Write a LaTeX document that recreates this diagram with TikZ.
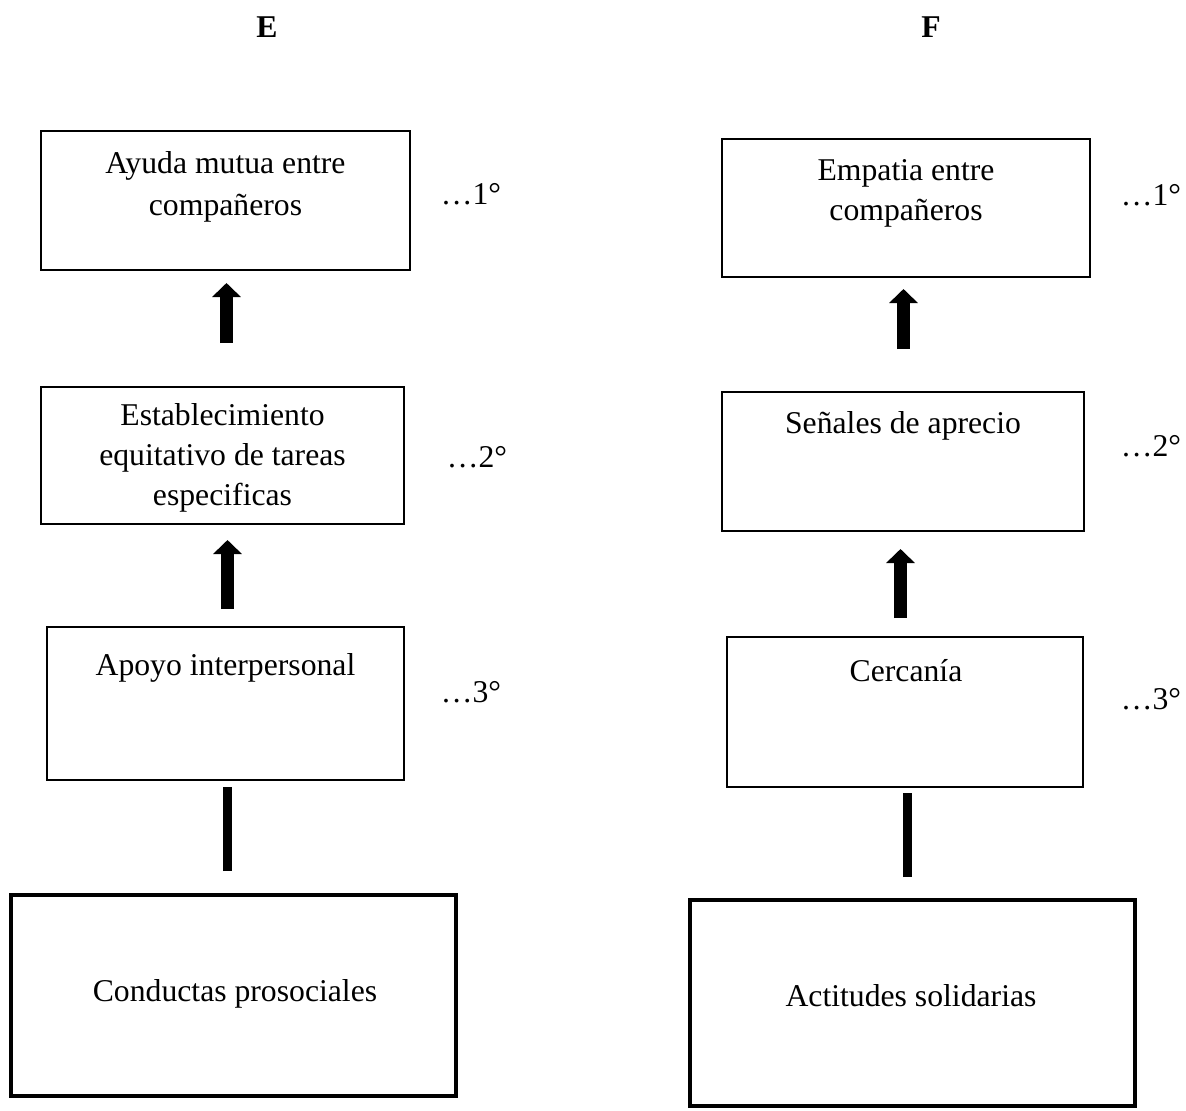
\documentclass[tikz,border=0pt]{standalone}
\usepackage{fontspec}
\setmainfont{Liberation Serif}
\usetikzlibrary{arrows.meta}
\begin{document}
\begin{tikzpicture}[x=1pt,y=-1pt,
  box/.style={draw,line width=2pt,inner sep=0pt,outer sep=0pt},
  thickbox/.style={draw,line width=4pt,inner sep=0pt,outer sep=0pt},
  txt/.style={font=\fontsize{31.7pt}{41pt}\selectfont,align=center,anchor=base,inner sep=0pt},
  fat/.style={line width=13pt,-{Triangle[length=14pt,width=28pt]}},
  bar/.style={line width=9pt}]
\useasboundingbox (0,0) rectangle (1186,1111);
% headings
\node[txt,font=\fontsize{31.7pt}{41pt}\selectfont\bfseries] (E) at (267,37) {E};
\node[txt,font=\fontsize{31.7pt}{41pt}\selectfont\bfseries] (F) at (931,37) {F};
% left column
\node[box,minimum width=369pt,minimum height=139pt] (L1) at (225.5,200.5) {};
\node[box,minimum width=363pt,minimum height=137pt] (L2) at (222.5,455.5) {};
\node[box,minimum width=357pt,minimum height=153pt] (L3) at (225.5,703.5) {};
\node[thickbox,minimum width=445pt,minimum height=201pt] (L4) at (233.5,995.5) {};
\node[txt,font=\fontsize{31.7pt}{42pt}\selectfont] (tL1) at (225.5,215) {Ayuda mutua entre\\compañeros};
\node[txt,font=\fontsize{31.7pt}{40pt}\selectfont] (tL2) at (222.5,505) {Establecimiento\\equitativo de tareas\\especificas};
\node[txt] (tL3) at (225.5,675) {Apoyo interpersonal};
\node[txt] (tL4) at (235,1001) {Conductas prosociales};
\node[txt] (nL1) at (471,204) {…1°};
\node[txt] (nL2) at (477,467) {…2°};
\node[txt] (nL3) at (471,702) {…3°};
\draw[fat,shorten <=44pt,shorten >=13pt] ([xshift=4pt]L2.north) -- ([xshift=4pt]L2.north |- L1.south);
\draw[fat,shorten <=18pt,shorten >=16pt] ([xshift=2pt]L3.north) -- ([xshift=2pt]L3.north |- L2.south);
\draw[bar,shorten <=24pt,shorten >=7pt] ([xshift=-6pt]L4.north) -- ([xshift=-6pt]L4.north |- L3.south);
% right column
\node[box,minimum width=368pt,minimum height=138pt] (R1) at (906,208) {};
\node[box,minimum width=362pt,minimum height=139pt] (R2) at (903,461.5) {};
\node[box,minimum width=356pt,minimum height=150pt] (R3) at (905,712) {};
\node[thickbox,minimum width=445pt,minimum height=206pt] (R4) at (912.5,1003) {};
\node[txt,font=\fontsize{31.7pt}{40pt}\selectfont] (tR1) at (906,220) {Empatia entre\\compañeros};
\node[txt] (tR2) at (903,433) {Señales de aprecio};
\node[txt] (tR3) at (906,681) {Cercanía};
\node[txt] (tR4) at (911,1006) {Actitudes solidarias};
\node[txt] (nR1) at (1151,205) {…1°};
\node[txt] (nR2) at (1151,456) {…2°};
\node[txt] (nR3) at (1151,709) {…3°};
\draw[fat,shorten <=43pt,shorten >=12pt] ([xshift=0.5pt]R2.north) -- ([xshift=0.5pt]R2.north |- R1.south);
\draw[fat,shorten <=19pt,shorten >=18pt] ([xshift=-4.5pt]R3.north) -- ([xshift=-4.5pt]R3.north |- R2.south);
\draw[bar,shorten <=23pt,shorten >=6pt] ([xshift=-5pt]R4.north) -- ([xshift=-5pt]R4.north |- R3.south);
\end{tikzpicture}
\end{document}
